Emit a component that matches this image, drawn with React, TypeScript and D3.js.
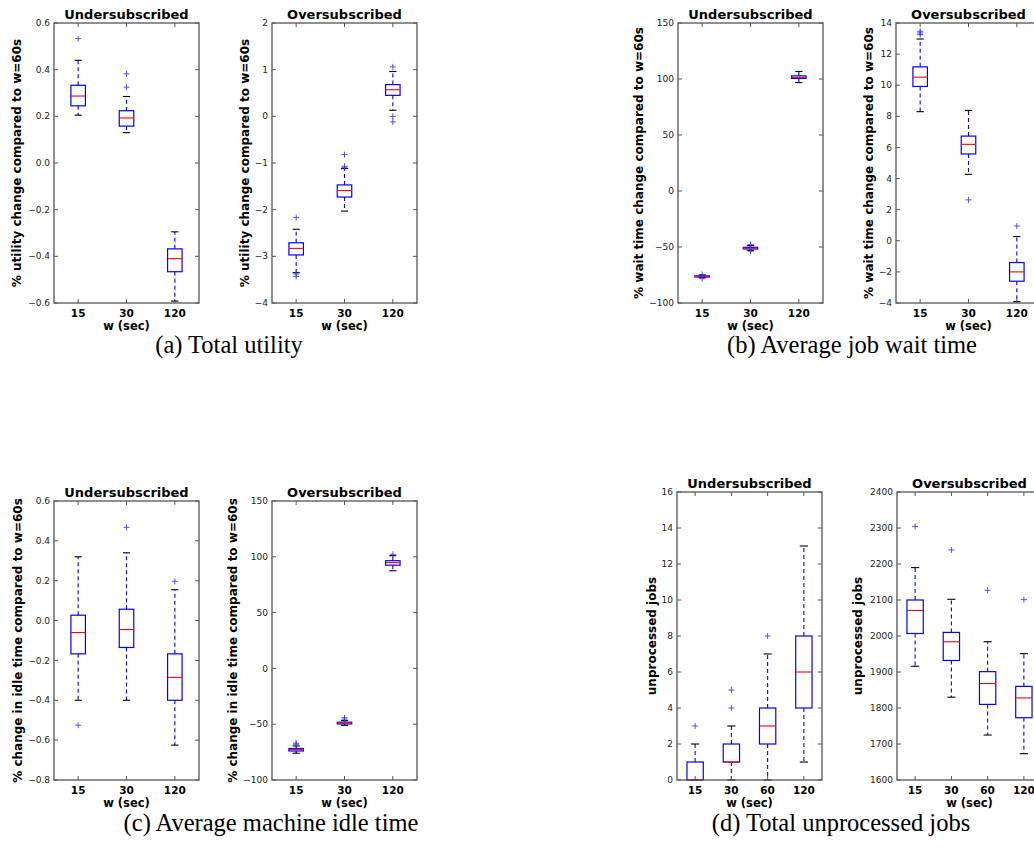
import React from 'react';
import * as d3 from 'd3';

// categories (w in seconds)
const wThree = ['15', '30', '120'];
const wFour = ['15', '30', '60', '120'];

// box stats per category: [lowWhisker, q1, median, q3, highWhisker]
const utilUnder = [[0.205, 0.245, 0.287, 0.333, 0.44], [0.13, 0.158, 0.193, 0.224, 0.285], [-0.592, -0.466, -0.41, -0.368, -0.295]];
const utilUnderOut = [[0.533], [0.325, 0.382], []];
const utilOver = [[-3.35, -2.97, -2.83, -2.71, -2.42], [-2.03, -1.73, -1.59, -1.47, -1.12], [0.13, 0.45, 0.57, 0.68, 0.96]];
const utilOverOut = [[-2.17, -3.38, -3.43], [-0.82, -1.07, -1.1], [1.06, 0.0, -0.12]];

const waitUnder = [[-77.5, -76.8, -76.3, -75.8, -75], [-53, -51.8, -51, -50.3, -48.8], [96.8, 100.5, 101.5, 102.8, 106.7]];
const waitUnderOut = [[-74.5, -78.3], [-47.8, -53.8], []];
const waitOver = [[8.3, 9.92, 10.52, 11.18, 12.97], [4.27, 5.58, 6.2, 6.73, 8.38], [-3.91, -2.6, -2.0, -1.4, 0.27]];
const waitOverOut = [[13.25, 13.36, 13.47], [2.63], [0.95]];

const idleUnder = [[-0.4, -0.167, -0.06, 0.027, 0.32], [-0.4, -0.135, -0.045, 0.057, 0.34], [-0.625, -0.4, -0.285, -0.167, 0.155]];
const idleUnderOut = [[-0.525], [0.468], [0.197]];
const idleOver = [[-76, -74, -72.8, -71.8, -69.5], [-51, -49.8, -49, -48.2, -46.8], [87.5, 92.5, 94.8, 96.5, 101]];
const idleOverOut = [[-68, -67], [-45.5, -44.3], [102.2]];

const jobsUnder = [[0, 0, 0, 1, 2], [0, 1, 1, 2, 3], [0, 2, 3, 4, 7], [1, 4, 6, 8, 13]];
const jobsUnderOut = [[3], [4, 5], [8], []];
const jobsOver = [[1916, 2007, 2071, 2100, 2190], [1830, 1932, 1984, 2010, 2102], [1725, 1810, 1868, 1901, 1984], [1673, 1773, 1828, 1860, 1951]];
const jobsOverOut = [[2304], [2239], [2127], [2101]];

const captions = ['(a) Total utility', '(b) Average job wait time', '(c) Average machine idle time', '(d) Total unprocessed jobs'];

const SANS = '"DejaVu Sans", sans-serif';
const FRAME = '#555';

const panels = [
  { x: 54, y: 23, h: 280, cats: wThree, stats: utilUnder, out: utilUnderOut, dom: [-0.6, 0.6], nt: 6, fmt: '.1f', title: 'Undersubscribed', ylab: '% utility change compared to w=60s', labX: 17 },
  { x: 272, y: 23, h: 280, cats: wThree, stats: utilOver, out: utilOverOut, dom: [-4, 2], nt: 6, fmt: 'd', title: 'Oversubscribed', ylab: '% utility change compared to w=60s', labX: 245 },
  { x: 678, y: 23, h: 280, cats: wThree, stats: waitUnder, out: waitUnderOut, dom: [-100, 150], nt: 5, fmt: 'd', title: 'Undersubscribed', ylab: '% wait time change compared to w=60s', labX: 639 },
  { x: 896, y: 23, h: 280, cats: wThree, stats: waitOver, out: waitOverOut, dom: [-4, 14], nt: 9, fmt: 'd', title: 'Oversubscribed', ylab: '% wait time change compared to w=60s', labX: 869 },
  { x: 54, y: 501, h: 279, cats: wThree, stats: idleUnder, out: idleUnderOut, dom: [-0.8, 0.6], nt: 7, fmt: '.1f', title: 'Undersubscribed', ylab: '% change in idle time compared to w=60s', labX: 18 },
  { x: 272, y: 501, h: 279, cats: wThree, stats: idleOver, out: idleOverOut, dom: [-100, 150], nt: 5, fmt: 'd', title: 'Oversubscribed', ylab: '% change in idle time compared to w=60s', labX: 233 },
  { x: 677, y: 492, h: 288, cats: wFour, stats: jobsUnder, out: jobsUnderOut, dom: [0, 16], nt: 8, fmt: 'd', title: 'Undersubscribed', ylab: 'unprocessed jobs', labX: 652 },
  { x: 897, y: 492, h: 288, cats: wFour, stats: jobsOver, out: jobsOverOut, dom: [1600, 2400], nt: 8, fmt: 'd', title: 'Oversubscribed', ylab: 'unprocessed jobs', labX: 858 },
];

const captionPos = [
  { x: 229, y: 353 },
  { x: 852, y: 353 },
  { x: 271, y: 831 },
  { x: 841, y: 831 },
];

function BoxPanel({ p }: { p: any }) {
  const w = 145;
  const x0 = p.x, y0 = p.y, h = p.h;
  const xs = d3.scaleBand().domain(p.cats).range([x0, x0 + w]);
  const ys = d3.scaleLinear().domain(p.dom).range([y0 + h, y0]);
  const n = p.cats.length;
  const bw = Math.min(0.5, Math.max(0.15, 0.15 * (n - 1))) * xs.bandwidth();
  const fmt = d3.format(p.fmt);
  const ticks = ys.ticks(p.nt);

  return (
    <g>
      {/* boxes */}
      {p.stats.map((s: number[], i: number) => {
        const cx = xs(p.cats[i])! + xs.bandwidth() / 2;
        const [lo, q1, med, q3, hi] = s;
        return (
          <g key={i}>
            <line x1={cx} x2={cx} y1={ys(q1)} y2={ys(lo)} stroke="#0000ff" strokeWidth={1.1} strokeDasharray="4,3" />
            <line x1={cx} x2={cx} y1={ys(q3)} y2={ys(hi)} stroke="#0000ff" strokeWidth={1.1} strokeDasharray="4,3" />
            <line x1={cx - bw / 4} x2={cx + bw / 4} y1={ys(lo)} y2={ys(lo)} stroke="#000" strokeWidth={1.1} />
            <line x1={cx - bw / 4} x2={cx + bw / 4} y1={ys(hi)} y2={ys(hi)} stroke="#000" strokeWidth={1.1} />
            <rect x={cx - bw / 2} y={ys(q3)} width={bw} height={Math.max(0.5, ys(q1) - ys(q3))} fill="none" stroke="#0000ff" strokeWidth={1.2} />
            <line x1={cx - bw / 2} x2={cx + bw / 2} y1={ys(med)} y2={ys(med)} stroke="#ff0000" strokeWidth={1.1} />
            {p.out[i].map((o: number, j: number) => (
              <path key={j} d={`M${cx - 3},${ys(o)}H${cx + 3}M${cx},${ys(o) - 3}V${ys(o) + 3}`} stroke="#3333ff" strokeWidth={1} opacity={0.85} />
            ))}
          </g>
        );
      })}
      {/* frame */}
      <rect x={x0} y={y0} width={w} height={h} fill="none" stroke={FRAME} strokeWidth={1.3} />
      {/* y ticks */}
      {ticks.map((t) => (
        <g key={t}>
          <line x1={x0} x2={x0 + 4} y1={ys(t)} y2={ys(t)} stroke={FRAME} />
          <line x1={x0 + w} x2={x0 + w - 4} y1={ys(t)} y2={ys(t)} stroke={FRAME} />
          <text x={x0 - 4} y={ys(t)} dy="0.35em" textAnchor="end" fontFamily={SANS} fontSize={9} fill="#222">
            {fmt(t)}
          </text>
        </g>
      ))}
      {/* x ticks */}
      {p.cats.map((c: string) => {
        const cx = xs(c)! + xs.bandwidth() / 2;
        return (
          <g key={c}>
            <line x1={cx} x2={cx} y1={y0 + h} y2={y0 + h - 4} stroke={FRAME} />
            <line x1={cx} x2={cx} y1={y0} y2={y0 + 4} stroke={FRAME} />
            <text x={cx} y={y0 + h + 13.5} textAnchor="middle" fontFamily={SANS} fontWeight="bold" fontSize={10.5} fill="#000">
              {c}
            </text>
          </g>
        );
      })}
      <text x={x0 + w / 2} y={y0 + h + 26.5} textAnchor="middle" fontFamily={SANS} fontWeight="bold" fontSize={11.5} fill="#000">
        w (sec)
      </text>
      <text x={x0 + w / 2} y={y0 - 4} textAnchor="middle" fontFamily={SANS} fontWeight="bold" fontSize={13} fill="#000">
        {p.title}
      </text>
      <text
        transform={`translate(${p.labX},${y0 + h / 2}) rotate(-90)`}
        dy="0.35em"
        textAnchor="middle"
        fontFamily={SANS}
        fontWeight="bold"
        fontSize={12}
        fill="#000"
      >
        {p.ylab}
      </text>
    </g>
  );
}

export default function App() {
  return (
    <svg width={1034} height={861} style={{ position: 'absolute', left: 0, top: 0, background: '#fff' }}>
      <rect width={1034} height={861} fill="#fff" />
      {panels.map((p, i) => (
        <BoxPanel key={i} p={p} />
      ))}
      {captions.map((c, i) => (
        <text key={i} x={captionPos[i].x} y={captionPos[i].y} textAnchor="middle" fontFamily='"Liberation Serif", "Times New Roman", serif' fontSize={24.5} fill="#000">
          {c}
        </text>
      ))}
    </svg>
  );
}
